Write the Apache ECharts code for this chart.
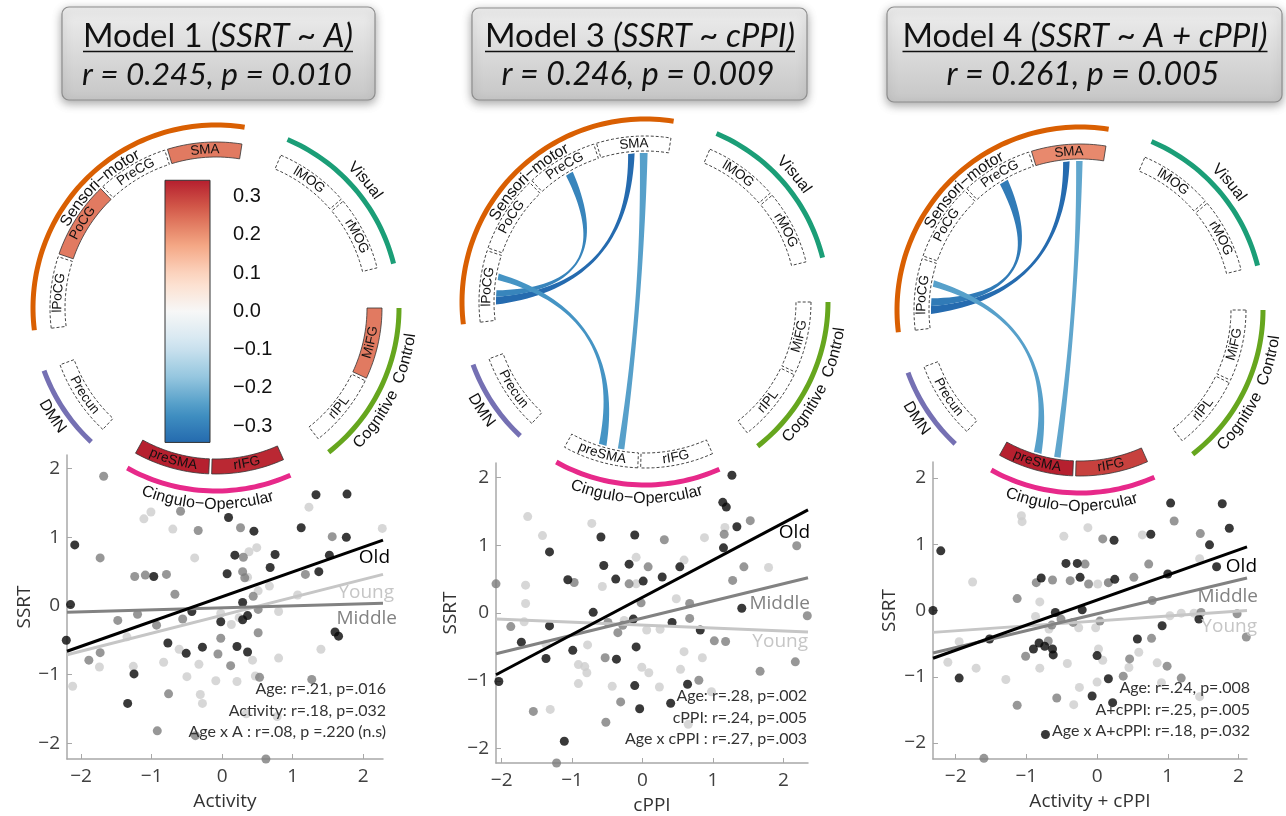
<!DOCTYPE html>
<html>
<head>
<meta charset="utf-8">
<script src="https://cdn.jsdelivr.net/npm/echarts@6/dist/echarts.min.js"></script>
<style>
  html, body { margin: 0; padding: 0; background: #fff; }
  #container { width: 1286px; height: 816px; }
</style>
</head>
<body>
<div id="container"></div>
<script>
// ---- circle layout (angles in degrees, clockwise from 12 o'clock) ----
const networkNames = ['Sensori\u2212motor', 'Visual', 'Cognitive  Control', 'Cingulo\u2212Opercular', 'DMN'];
const networkStart = [263, 23, 90, 156, 223];
const networkEnd = [369, 76, 142, 209, 250];
const networkColors = ['#d95f02', '#1b9e77', '#66a61e', '#e7298a', '#7570b3'];

const regionNames = ['lPoCG', 'PoCG', 'PreCG', 'SMA', 'lMOG', 'rMOG', 'MiFG', 'rIPL', 'rIFG', 'preSMA', 'Precun'];
const regionStart = [263, 289, 317, 343, 23, 50, 90, 116, 156, 182.5, 223];
const regionEnd = [288, 316, 342, 369, 49, 76, 115, 142, 181.5, 209, 250];

// activity (model 1 / model 4) per region, null = not significant
const m1RegionR = [null, 0.23, null, 0.23, null, null, 0.23, null, 0.33, 0.34, null];
const m3RegionR = [null, null, null, null, null, null, null, null, null, null, null];
const m4RegionR = [null, null, null, 0.21, null, null, null, null, 0.30, 0.34, null];

// cPPI links
const linkSource = ['lPoCG', 'lPoCG', 'lPoCG', 'SMA'];
const linkTarget = ['SMA', 'PreCG', 'preSMA', 'preSMA'];
const m3SrcFrom = [269, 272, 278.5, 358];
const m3SrcTo = [272, 274.5, 281, 361];
const m3DstFrom = [353.5, 328, 195, 188];
const m3DstTo = [356, 331, 198, 190.5];
const m3LinkR = [-0.34, -0.29, -0.26, -0.24];
const m4SrcFrom = [268.5, 271.5, 279, 358.5];
const m4SrcTo = [271.5, 274.5, 281.5, 361];
const m4DstFrom = [353.5, 327.5, 195, 187.5];
const m4DstTo = [356, 331, 198, 190];
const m4LinkR = [-0.34, -0.31, -0.24, -0.23];

const colorTicks = [-0.3, -0.2, -0.1, 0, 0.1, 0.2, 0.3];
const colorLimits = [-0.343, 0.343];

// ---- scatter data: [x, SSRT] ----
const m1Old = [[-2.09,0.89],[-2.15,0.02],[-2.21,-0.50],[-0.97,0.43],[-1.25,-0.99],[-1.34,-1.42],[-0.77,-0.54],[-0.51,-0.69],[-0.43,-0.08],[-0.28,-0.60],[-0.02,-0.23],[0.09,1.29],[0.07,0.47],[0.18,0.74],[0.21,-0.59],[0.29,0.05],[0.29,-0.20],[0.36,-0.14],[0.36,-0.67],[0.45,1.09],[0.68,0.56],[0.75,0.75],[1.12,1.14],[1.33,1.62],[1.37,0.50],[1.52,0.74],[1.60,-0.38],[1.65,-0.44],[1.76,1.00],[1.77,1.63]];
const m1Mid = [[-1.68,1.89],[-1.73,0.70],[-1.73,-0.68],[-1.89,-0.79],[-1.48,-0.21],[-1.24,0.43],[-1.20,-0.12],[-1.09,0.45],[-0.93,-0.28],[-0.79,0.46],[-0.67,0.17],[-0.76,-1.28],[-0.92,-1.82],[-0.59,1.38],[-0.56,-0.19],[-0.34,1.10],[-0.38,-1.89],[-0.06,-0.70],[-0.02,-0.47],[0.12,-0.87],[0.26,1.14],[0.30,0.71],[0.29,0.50],[0.32,0.41],[0.44,0.14],[0.51,-0.05],[0.51,-0.39],[0.53,-1.04],[0.62,-2.23],[1.18,0.46],[1.27,-1.07],[1.56,1.01]];
const m1Young = [[-2.12,-1.17],[-1.74,-0.89],[-1.35,-0.45],[-1.26,-0.88],[-1.11,1.27],[-1.01,1.37],[-0.83,-0.82],[-0.70,1.12],[-0.61,-0.63],[-0.50,-1.03],[-0.39,0.70],[-0.33,-0.85],[-0.31,-1.29],[-0.28,-1.42],[-0.09,-1.09],[-0.02,-0.11],[0.13,-0.27],[0.21,-1.10],[0.24,-0.17],[0.34,-1.57],[0.36,0.42],[0.38,0.79],[0.43,-0.79],[0.49,0.85],[0.51,0.22],[0.47,-1.02],[0.67,0.29],[0.80,-0.08],[0.80,-0.76],[0.78,-1.61],[1.07,0.16],[1.23,1.44],[1.40,-0.63],[2.27,1.13]];
const m1OldFit = [[-2.2,-0.66],[2.28,0.96]];
const m1MidFit = [[-2.2,-0.09],[2.28,0.04]];
const m1YoungFit = [[-2.2,-0.71],[2.28,0.46]];

const m3Old = [[-2.04,-1.01],[-1.72,-0.43],[-1.37,-0.67],[-1.32,-0.19],[-1.32,0.90],[-1.06,0.49],[-0.99,-0.55],[-1.11,-1.89],[-0.70,0.01],[-0.59,1.12],[-0.55,0.70],[-0.38,0.50],[-0.37,-0.68],[-0.19,0.72],[-0.11,1.15],[-0.13,-0.09],[-0.09,-0.50],[-0.11,-1.07],[-0.04,-1.41],[0.01,0.47],[0.28,0.53],[0.42,-0.14],[0.53,0.68],[0.82,-0.25],[0.64,-1.05],[0.40,-1.33],[1.15,0.96],[1.14,1.63],[1.19,1.56],[1.27,2.03],[1.34,1.27],[1.41,0.07]];
const m3Mid = [[-2.08,0.43],[-1.87,-0.20],[-1.55,-1.45],[-1.22,-2.21],[-0.97,0.45],[-0.53,-0.66],[-0.52,-1.61],[-0.49,-0.14],[-0.35,-0.29],[-0.31,-1.31],[-0.28,-0.18],[-0.19,0.43],[-0.02,0.15],[0.08,0.68],[0.31,1.08],[0.67,-0.08],[0.67,0.14],[0.80,-0.99],[1.02,-0.41],[1.16,1.16],[1.18,-0.42],[1.28,0.48],[1.44,0.68],[1.53,1.36],[1.67,-0.86],[2.17,-0.72],[2.19,0.99],[2.34,-0.04]];
const m3Young = [[-1.63,1.42],[-1.66,0.41],[-1.66,0.14],[-1.68,-0.13],[-1.42,1.14],[-1.31,-1.42],[-1.37,-0.46],[-0.91,-0.76],[-0.91,-1.04],[-0.82,-0.79],[-0.79,-0.88],[-0.78,-0.47],[-0.72,1.32],[-0.57,0.39],[-0.43,-1.08],[-0.26,-0.11],[-0.09,0.82],[-0.09,0.43],[-0.01,-0.80],[0.06,-0.25],[0.09,-0.88],[0.24,-1.09],[0.25,-0.24],[0.48,0.21],[0.54,-0.83],[0.59,-0.57],[0.59,0.78],[0.65,-1.64],[0.85,-0.66],[0.88,1.11],[0.98,-1.16],[1.17,1.26],[1.79,0.67]];
const m3OldFit = [[-2.08,-0.91],[2.35,1.52]];
const m3MidFit = [[-2.08,-0.60],[2.35,0.52]];
const m3YoungFit = [[-2.08,-0.09],[2.35,-0.28]];

const m4Old = [[-2.32,0.00],[-2.21,0.90],[-1.95,-1.02],[-1.52,-0.43],[-0.90,-0.58],[-0.82,-0.49],[-0.79,0.49],[-0.74,-0.54],[-0.63,-0.58],[-0.62,-0.67],[-0.59,-0.03],[-0.44,0.71],[-0.28,0.71],[-0.24,0.50],[-0.21,0.01],[-0.07,-1.29],[0.00,-0.68],[0.16,-1.03],[0.22,-1.39],[0.24,1.06],[0.25,0.47],[0.57,-0.43],[0.76,1.15],[0.92,-0.23],[1.00,0.55],[1.04,1.62],[1.44,-0.13],[1.59,0.99],[1.69,0.66],[1.77,1.61],[1.87,1.24],[-0.73,-1.87]];
const m4Mid = [[-1.60,-2.23],[-1.13,-1.43],[-1.13,0.18],[-1.01,-0.69],[-0.86,0.42],[-0.69,-0.46],[-0.63,0.46],[-0.64,-0.22],[-0.57,-1.32],[-0.51,-0.13],[-0.38,0.45],[-0.34,-0.18],[-0.17,0.70],[-0.12,0.40],[0.04,-0.16],[0.08,1.08],[0.16,0.42],[0.46,-0.73],[0.37,-0.99],[0.52,0.50],[0.73,0.70],[0.77,-0.42],[0.78,0.15],[0.99,-0.84],[1.09,1.35],[1.19,-1.02],[1.46,1.16],[1.47,-0.03],[1.98,-0.05],[2.11,-0.40]];
const m4Young = [[-2.11,-0.78],[-1.95,-0.47],[-1.76,0.43],[-1.71,-0.87],[-1.29,-1.04],[-1.07,1.43],[-1.06,1.34],[-0.87,-0.09],[-0.81,0.13],[-0.81,-0.87],[-0.68,-0.28],[-0.47,1.12],[-0.42,-0.80],[-0.33,-1.42],[-0.26,-0.26],[-0.25,-1.16],[-0.13,1.25],[-0.02,-0.26],[0.00,-1.08],[0.01,0.40],[0.02,-0.58],[0.08,-0.75],[0.16,0.42],[0.45,-0.86],[0.59,-0.63],[0.64,1.14],[0.85,-0.79],[0.91,-1.09],[1.03,-0.08],[1.19,-0.04],[1.45,0.78],[1.45,-1.30],[1.37,-0.04]];
const m4OldFit = [[-2.32,-0.72],[2.12,0.96]];
const m4MidFit = [[-2.32,-0.64],[2.12,0.49]];
const m4YoungFit = [[-2.32,-0.33],[2.12,0.00]];

const axisTicks = [-2, -1, 0, 1, 2];
const xNames = ['Activity', 'cPPI', 'Activity + cPPI'];
const xLimits = [[-2.2, 2.28], [-2.08, 2.35], [-2.32, 2.12]];
const yLimits = [[-2.23, 2.2], [-2.21, 2.21], [-2.24, 2.24]];

const statsText = [
  ['Age: r=.21, p=.016', 'Activity: r=.18, p=.032', 'Age x A : r=.08, p =.220 (n.s)'],
  ['Age: r=.28, p=.002', 'cPPI: r=.24, p=.005', 'Age x cPPI : r=.27, p=.003'],
  ['Age: r=.24, p=.008', 'A+cPPI: r=.25, p=.005', 'Age x A+cPPI: r=.18, p=.032']
];

// ---- helpers ----
const rdbu = ['#2166ac', '#4393c3', '#92c5de', '#d1e5f0', '#f7f7f7', '#fddbc7', '#f4a582', '#d6604d', '#b2182b'];
function hex(c) { return [1, 3, 5].map(k => parseInt(c.substr(k, 2), 16)); }
function valueColor(v) {
  let t = (v + 0.35) / 0.7;
  t = Math.max(0, Math.min(1, t)) * (rdbu.length - 1);
  const k = Math.min(rdbu.length - 2, Math.floor(t));
  const f = t - k, a = hex(rdbu[k]), b = hex(rdbu[k + 1]);
  return 'rgb(' + a.map((x, j) => Math.round(x + (b[j] - x) * f)).join(',') + ')';
}
const minus = v => String(v).replace('-', '\u2212');

const measureCtx = document.createElement('canvas').getContext('2d');
function textW(str, font) { measureCtx.font = font; return measureCtx.measureText(str).width; }

function arcPts(api, r, a0, a1) {
  const n = Math.max(2, Math.ceil(Math.abs(a1 - a0) / 1.5));
  const pts = [];
  for (let i = 0; i <= n; i++) pts.push(api.coord([r, a0 + (a1 - a0) * i / n]));
  return pts;
}

// text bent along a circle, readable in the lower half too
function curvedText(api, str, r, mid, size, color) {
  const font = size + 'px "Liberation Sans"';
  const chars = Array.from(str);
  const widths = chars.map(ch => textW(ch, font));
  const total = widths.reduce((a, b) => a + b, 0);
  const norm = ((mid % 360) + 360) % 360;
  const lower = norm > 90 && norm < 270;
  const deg = 180 / Math.PI;
  let acc = 0;
  return chars.map((ch, k) => {
    const off = ((acc + widths[k] / 2) - total / 2) / r * deg;
    acc += widths[k];
    const a = lower ? mid - off : mid + off;
    const p = api.coord([r, a]);
    return {
      type: 'text', x: p[0], y: p[1], rotation: (lower ? 180 - a : -a) / deg,
      style: { text: ch, fontSize: size, fontFamily: 'Liberation Sans', fill: color,
        align: 'center', verticalAlign: 'middle' }
    };
  });
}

function networkSeries(p) {
  return {
    type: 'custom', coordinateSystem: 'polar', polarIndex: p, z: 10, silent: true,
    data: networkStart.map((s, i) => [s, networkEnd[i], i]),
    renderItem: function (params, api) {
      const s = api.value(0), e = api.value(1), i = api.value(2);
      const pts = arcPts(api, 185.5, s, e).concat(arcPts(api, 180.5, e, s));
      const inside = i === 0;
      return {
        type: 'group',
        children: [{ type: 'polygon', shape: { points: pts }, style: { fill: networkColors[i] } }]
          .concat(curvedText(api, networkNames[i], inside ? 172.5 : 196.5, (s + e) / 2, 16, '#111'))
      };
    }
  };
}

function regionSeries(p, values) {
  return {
    type: 'custom', coordinateSystem: 'polar', polarIndex: p, z: 10, silent: true,
    data: regionStart.map((s, i) => [s, regionEnd[i], i]),
    renderItem: function (params, api) {
      const s = api.value(0), e = api.value(1), i = api.value(2);
      const v = values[i];
      const pts = arcPts(api, 166, s, e).concat(arcPts(api, 151, e, s));
      const style = v == null
        ? { fill: 'none', stroke: '#444', lineWidth: 1, lineDash: [3, 2] }
        : { fill: valueColor(v), stroke: '#333', lineWidth: 0.8 };
      return {
        type: 'group',
        children: [{ type: 'polygon', shape: { points: pts }, style: style }]
          .concat(curvedText(api, regionNames[i], 158.5, (s + e) / 2, 13.5, '#111'))
      };
    }
  };
}

function linkSeries(p, srcFrom, srcTo, dstFrom, dstTo, values) {
  return {
    type: 'custom', coordinateSystem: 'polar', polarIndex: p, z: 9, silent: true,
    data: values.map((v, i) => [srcFrom[i], srcTo[i], dstFrom[i], dstTo[i], i]),
    renderItem: function (params, api) {
      const r = 149;
      const c = api.coord([0, 0]);
      const bez = (a, b) => {
        const P0 = api.coord([r, a]), P2 = api.coord([r, b]);
        const C = [c[0] + 0.2 * ((P0[0] + P2[0]) / 2 - c[0]), c[1] + 0.2 * ((P0[1] + P2[1]) / 2 - c[1])];
        const out = [];
        for (let k = 0; k <= 40; k++) {
          const t = k / 40, u = 1 - t;
          out.push([u * u * P0[0] + 2 * u * t * C[0] + t * t * P2[0], u * u * P0[1] + 2 * u * t * C[1] + t * t * P2[1]]);
        }
        return out;
      };
      const s1 = api.value(0), s2 = api.value(1), d1 = api.value(2), d2 = api.value(3);
      const pts = arcPts(api, r, s1, s2).concat(bez(s2, d1), arcPts(api, r, d1, d2), bez(d2, s1));
      return { type: 'polygon', shape: { points: pts }, style: { fill: valueColor(values[api.value(4)]) } };
    }
  };
}

// ---- scatter panels ----
const groupLabels = ['Young', 'Middle', 'Old'];
const dotColors = ['#cdcdcd', '#7d7d7d', '#080808'];
const lineColors = ['#c6c6c6', '#828282', '#000000'];
const panelDots = [[m1Young, m1Mid, m1Old], [m3Young, m3Mid, m3Old], [m4Young, m4Mid, m4Old]];
const panelFits = [[m1YoungFit, m1MidFit, m1OldFit], [m3YoungFit, m3MidFit, m3OldFit], [m4YoungFit, m4MidFit, m4OldFit]];
const labelOffsets = [
  [[11, 18], [14, 15], [7, 18]],
  [[0, 10], [2, 26], [2, 23]],
  [[10, 16], [11, 19], [10, 20]]
];

const grids = [
  { left: 67, top: 455, width: 316, height: 304 },
  { left: 496, top: 463, width: 312, height: 300 },
  { left: 933, top: 462, width: 314, height: 297 },
  { left: 165, top: 196.7, width: 45, height: 229.3 }
];
const yNameGaps = [32, 36, 34];

const xAxes = [], yAxes = [], series = [];
for (let p = 0; p < 3; p++) {
  const lab = { customValues: axisTicks, formatter: minus, fontFamily: 'Open Sans', fontSize: 19, color: '#404040' };
  xAxes.push({
    type: 'value', gridIndex: p, min: xLimits[p][0], max: xLimits[p][1],
    name: xNames[p], nameLocation: 'middle', nameGap: 33,
    nameTextStyle: { fontFamily: 'Open Sans', fontSize: 19, color: '#333' },
    axisLine: { show: true, onZero: false, lineStyle: { color: '#a8a8a8', width: 1.5 } },
    axisTick: { show: true, inside: true, length: 5, customValues: axisTicks, lineStyle: { color: '#a8a8a8' } },
    axisLabel: Object.assign({ margin: 8 }, lab),
    splitLine: { show: false }
  });
  yAxes.push({
    type: 'value', gridIndex: p, min: yLimits[p][0], max: yLimits[p][1],
    name: 'SSRT', nameLocation: 'middle', nameGap: yNameGaps[p], nameRotate: 90,
    nameTextStyle: { fontFamily: 'Open Sans', fontSize: 19, color: '#333' },
    axisLine: { show: true, onZero: false, lineStyle: { color: '#a8a8a8', width: 1.5 } },
    axisTick: { show: true, inside: true, length: 5, customValues: axisTicks, lineStyle: { color: '#a8a8a8' } },
    axisLabel: Object.assign({ margin: 7 }, lab),
    splitLine: { show: false }
  });
  for (let g = 0; g < 3; g++) {
    series.push({
      type: 'scatter', xAxisIndex: p, yAxisIndex: p, data: panelDots[p][g], clip: false,
      symbolSize: 9, itemStyle: { color: dotColors[g] }, z: 2 + g, silent: true
    });
  }
  for (let g = 0; g < 3; g++) {
    series.push({
      type: 'line', xAxisIndex: p, yAxisIndex: p, data: panelFits[p][g], symbol: 'none',
      lineStyle: { color: lineColors[g], width: 3 }, itemStyle: { color: lineColors[g] }, z: 6 + g, silent: true,
      endLabel: {
        show: true, formatter: groupLabels[g], align: 'right', verticalAlign: 'middle', distance: 0,
        offset: labelOffsets[p][g], fontFamily: 'Open Sans', fontSize: 19, color: lineColors[g]
      }
    });
  }
}

// colour bar axes
xAxes.push({ type: 'value', gridIndex: 3, min: 0, max: 1, show: false });
yAxes.push({
  type: 'value', gridIndex: 3, min: -0.3, max: 0.3, position: 'right',
  axisLine: { show: false },
  axisTick: { show: true, length: 12, customValues: colorTicks, lineStyle: { color: '#333', width: 1.2 } },
  axisLabel: { customValues: colorTicks, margin: 23, formatter: v => minus(v.toFixed(1)),
    fontFamily: 'Liberation Sans', fontSize: 20, color: '#111' },
  splitLine: { show: false }
});
series.push({
  type: 'custom', xAxisIndex: 3, yAxisIndex: 3, clip: false, silent: true, z: 12,
  data: [[0, colorLimits[1], 1, colorLimits[0]]],
  renderItem: function (params, api) {
    const a = api.coord([api.value(0), api.value(1)]);
    const b = api.coord([api.value(2), api.value(3)]);
    const stops = [];
    for (let k = 0; k <= 20; k++) {
      stops.push({ offset: k / 20, color: valueColor(colorLimits[1] - (colorLimits[1] - colorLimits[0]) * k / 20) });
    }
    return {
      type: 'rect', shape: { x: a[0], y: a[1], width: b[0] - a[0], height: b[1] - a[1] },
      style: { fill: new echarts.graphic.LinearGradient(0, 0, 0, 1, stops), stroke: '#333', lineWidth: 1 }
    };
  }
});

// circles
const regionValues = [m1RegionR, m3RegionR, m4RegionR];
for (let p = 0; p < 3; p++) {
  series.push(networkSeries(p));
  series.push(regionSeries(p, regionValues[p]));
}
series.push(linkSeries(1, m3SrcFrom, m3SrcTo, m3DstFrom, m3DstTo, m3LinkR));
series.push(linkSeries(2, m4SrcFrom, m4SrcTo, m4DstFrom, m4DstTo, m4LinkR));

const polarCenters = [[216, 308], [645, 302], [1080, 310]];
const polar = polarCenters.map(c => ({ center: c, radius: 200 }));
const angleAxis = polarCenters.map((c, i) => ({
  polarIndex: i, type: 'value', min: 0, max: 360, startAngle: 90, clockwise: true, show: false
}));
const radiusAxis = polarCenters.map((c, i) => ({ polarIndex: i, type: 'value', min: 0, max: 200, show: false }));

// ---- headers & stats ----
const headerNormal = ['Model 1 ', 'Model 3 ', 'Model 4 '];
const headerItalic = ['(SSRT ~ A)', '(SSRT ~ cPPI)', '(SSRT ~ A + cPPI)'];
const headerStats = ['r = 0.245, p = 0.010', 'r = 0.246, p = 0.009', 'r = 0.261, p = 0.005'];
const headerBoxes = [[62, 7, 313, 93], [472, 8, 335, 92], [887, 7, 395, 95]];
const headerCx = [218, 640, 1085];
const headerCx2 = [217, 638, 1083];
const headerW1 = [270, 310, 365];
const headerW2 = [270, 273, 273];

const graphics = [];
for (let p = 0; p < 3; p++) {
  const b = headerBoxes[p];
  const w1 = textW(headerNormal[p], '100px Lato') + textW(headerItalic[p], 'italic 100px Lato');
  const fs1 = 100 * headerW1[p] / w1;
  const fs2 = 100 * headerW2[p] / textW(headerStats[p], 'italic 100px Lato');
  graphics.push({
    type: 'rect', z: 20, shape: { x: b[0], y: b[1], width: b[2], height: b[3], r: 7 },
    style: {
      fill: new echarts.graphic.LinearGradient(0, 0, 0, 1, [{ offset: 0, color: '#eeeeee' }, { offset: 1, color: '#c6c6c6' }]),
      stroke: '#8e8e8e', lineWidth: 1.2, shadowBlur: 10, shadowColor: 'rgba(0,0,0,0.35)', shadowOffsetY: 3
    }
  });
  graphics.push({
    type: 'text', z: 21, x: headerCx[p], y: 36.5,
    style: {
      text: '{n|' + headerNormal[p] + '}{i|' + headerItalic[p] + '}',
      rich: {
        n: { fontFamily: 'Lato', fontSize: fs1, fill: '#111' },
        i: { fontFamily: 'Lato', fontSize: fs1, fontStyle: 'italic', fill: '#111' }
      },
      align: 'center', verticalAlign: 'middle'
    }
  });
  graphics.push({
    type: 'line', z: 21,
    shape: { x1: headerCx[p] - headerW1[p] / 2, y1: 51.5, x2: headerCx[p] + headerW1[p] / 2, y2: 51.5 },
    style: { stroke: '#111', lineWidth: 1.6 }
  });
  graphics.push({
    type: 'text', z: 21, x: headerCx2[p], y: 75,
    style: {
      text: headerStats[p], fontFamily: 'Lato', fontSize: fs2, fontStyle: 'italic', fill: '#111',
      align: 'center', verticalAlign: 'middle'
    }
  });
}

const statsRight = [386, 807, 1250];
const statsTop = [689, 696, 688];
for (let p = 0; p < 3; p++) {
  statsText[p].forEach((t, k) => {
    graphics.push({
      type: 'text', z: 15, x: statsRight[p], y: statsTop[p] + k * 21.5,
      style: { text: t, fontFamily: 'Lato', fontSize: 16, fill: '#333', align: 'right', verticalAlign: 'middle' }
    });
  });
}

const chart = echarts.init(document.getElementById('container'), null, { renderer: 'canvas' });
chart.setOption({
  animation: false,
  backgroundColor: '#ffffff',
  grid: grids,
  xAxis: xAxes,
  yAxis: yAxes,
  polar: polar,
  angleAxis: angleAxis,
  radiusAxis: radiusAxis,
  graphic: graphics,
  series: series
});
window.addEventListener('resize', chart.resize);
</script>
</body>
</html>
